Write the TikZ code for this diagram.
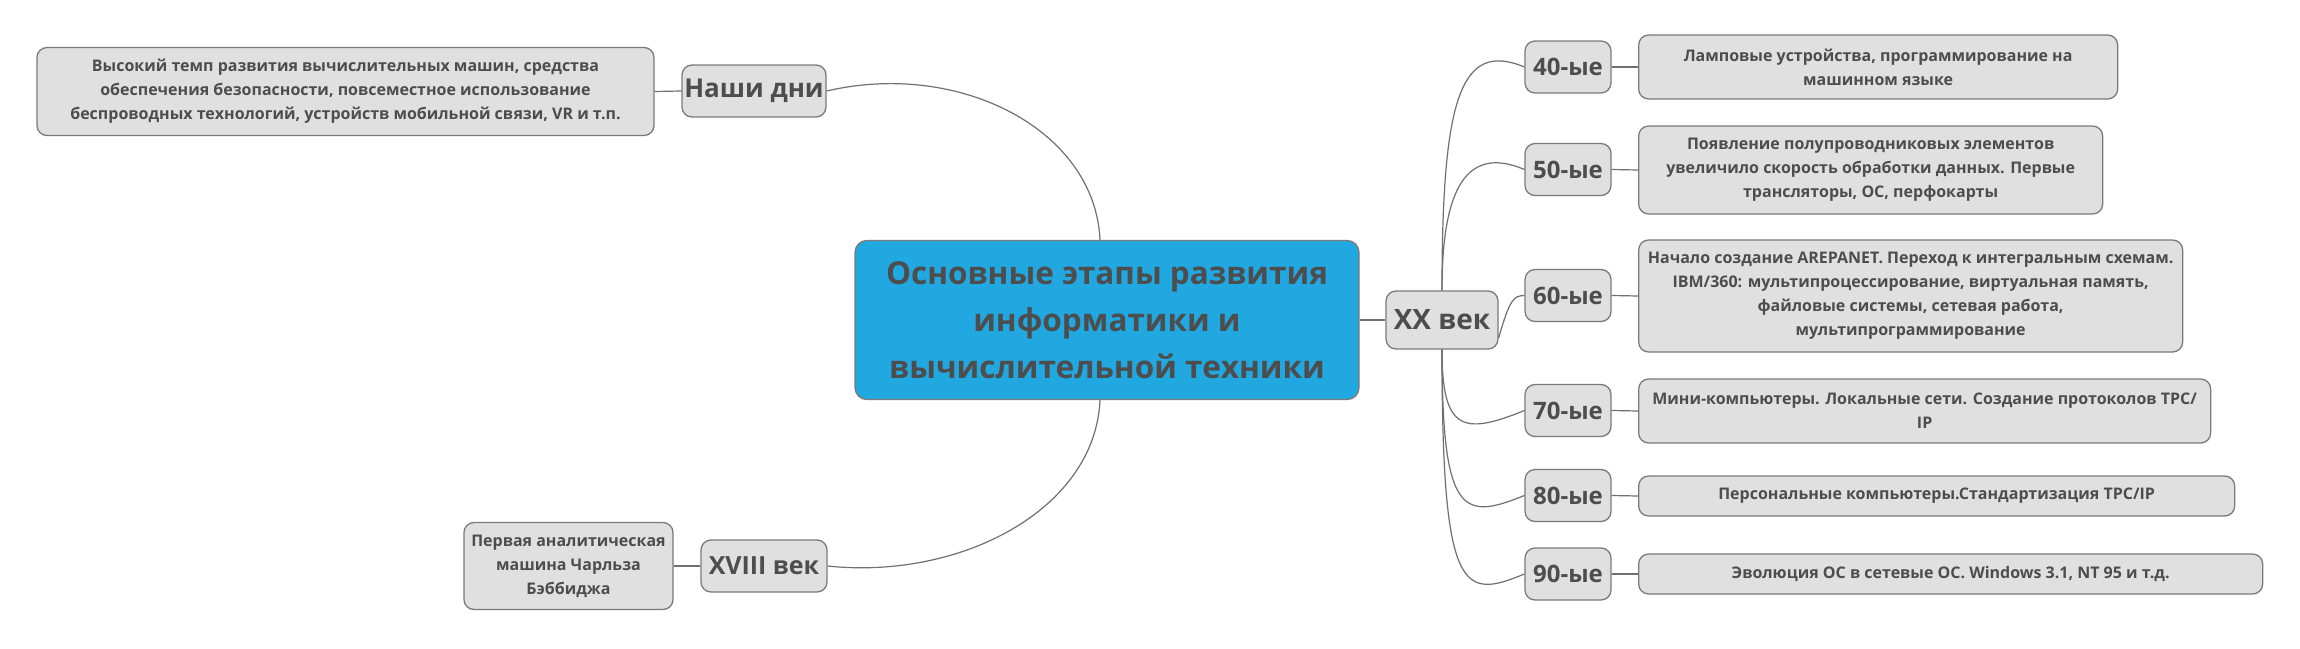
\documentclass[tikz,border=0pt]{standalone}
\usepackage{fontspec}
\setmainfont{Open Sans}
\definecolor{boxfill}{HTML}{E0E0E0}
\definecolor{boxline}{HTML}{7A7A7A}
\definecolor{txtcol}{HTML}{4D4D4D}
\definecolor{maincol}{HTML}{22A8E0}
\definecolor{linkcol}{HTML}{707070}
\begin{document}
\begin{tikzpicture}[x=1pt,y=-1pt,
  box/.style={rounded corners=10pt, draw=boxline, fill=boxfill, line width=1.3pt,
    text=txtcol, align=center, inner sep=0pt},
  descbox/.style={box, font=\bfseries\fontsize{16}{24}\selectfont},
  decbox/.style={box, font=\bfseries\fontsize{24}{28}\selectfont, minimum width=86, minimum height=52},
  branchbox/.style={box, font=\bfseries\fontsize{26}{30}\selectfont},
  link/.style={draw=linkcol, line width=1.2pt}]
\useasboundingbox (0,0) rectangle (2300,648);
\fill[white] (0,0) rectangle (2300,648);

% central
\node[box, fill=maincol, rounded corners=12pt, minimum width=504, minimum height=159,
  font=\bfseries\fontsize{31.5}{47}\selectfont] (c) at (1107,320)
  {Основные этапы развития\\информатики и\\вычислительной техники};

% left side
\node[branchbox, minimum width=144, minimum height=52] (nd) at (754,91) {Наши дни};
\node[descbox, minimum width=617, minimum height=88] (ndd) at (345.5,91.5)
  {Высокий темп развития вычислительных машин, средства\\обеспечения безопасности, повсеместное использование\\беспроводных технологий, устройств мобильной связи, VR и т.п.};
\node[branchbox, minimum width=126, minimum height=52, font=\bfseries\fontsize{25}{30}\selectfont] (x18) at (764,566) {XVIII век};
\node[descbox, minimum width=209, minimum height=87] (bab) at (568.5,566)
  {Первая аналитическая\\машина Чарльза\\Бэббиджа};

% XX century
\node[branchbox, minimum width=112, minimum height=58, font=\bfseries\fontsize{28}{30}\selectfont] (xx) at (1442,320) {XX век};

\node[decbox] (d40) at (1568,67) {40-ые};
\node[decbox] (d50) at (1568,169.5) {50-ые};
\node[decbox] (d60) at (1568,295.5) {60-ые};
\node[decbox] (d70) at (1568,410.5) {70-ые};
\node[decbox] (d80) at (1568,495.5) {80-ые};
\node[decbox] (d90) at (1568,574) {90-ые};

\node[descbox, anchor=west, minimum width=479, minimum height=64] (t40) at (1638,67)
  {Ламповые устройства, программирование на\\машинном языке};
\node[descbox, anchor=west, minimum width=464, minimum height=88] (t50) at (1638,170)
  {Появление полупроводниковых элементов\\увеличило скорость обработки данных. Первые\\трансляторы, ОС, перфокарты};
\node[descbox, anchor=west, minimum width=544, minimum height=112] (t60) at (1638,296)
  {Начало создание AREPANET. Переход к интегральным схемам.\\IBM/360: мультипроцессирование, виртуальная память,\\файловые системы, сетевая работа,\\мультипрограммирование};
\node[descbox, anchor=west, minimum width=572, minimum height=64] (t70) at (1638,411)
  {Мини-компьютеры. Локальные сети. Создание протоколов TPC/\\IP};
\node[descbox, anchor=west, minimum width=596, minimum height=40] (t80) at (1638,496)
  {Персональные компьютеры.Стандартизация TPC/IP};
\node[descbox, anchor=west, minimum width=624, minimum height=40] (t90) at (1638,574)
  {Эволюция ОС в сетевые ОС. Windows 3.1, NT 95 и т.д.};

% connectors
\draw[link] ([xshift=-7]c.north) .. controls (1095,130) and (960,60) .. (nd.east);
\draw[link] ([xshift=-7]c.south) .. controls (1095,510) and (960,580) .. (x18.east);
\draw[link] (nd.west) -- (ndd.east);
\draw[link] (x18.west) -- (bab.east);
\draw[link] (c.east) -- (xx.west);

\draw[link] (xx.north) .. controls (1442,100) and (1460,40) .. (d40.west);
\draw[link] (xx.north) .. controls (1442,202) and (1460,142) .. (d50.west);
\draw[link] ([yshift=-18]xx.east) .. controls (1510,298) and (1514,296) .. (d60.west);
\draw[link] (xx.south) .. controls (1442,430) and (1462,436) .. (d70.west);
\draw[link] (xx.south) .. controls (1442,515) and (1462,521) .. (d80.west);
\draw[link] (xx.south) .. controls (1442,594) and (1462,600) .. (d90.west);

\foreach \n in {40,50,60,70,80,90} {\draw[link] (d\n.east) -- (t\n.west);}
\end{tikzpicture}
\end{document}
